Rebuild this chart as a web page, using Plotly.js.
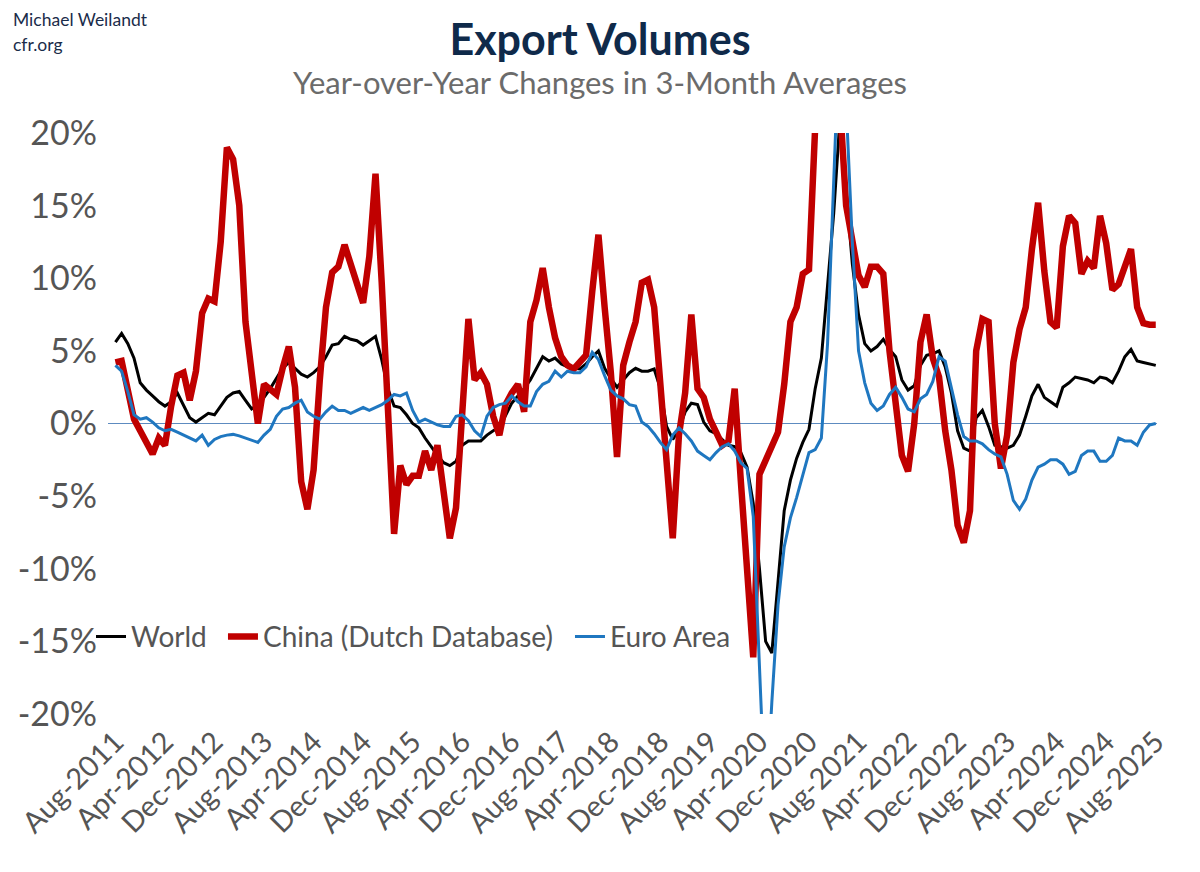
<!DOCTYPE html>
<html>
<head>
<meta charset="utf-8">
<script src="https://cdn.plot.ly/plotly-3.0.1.min.js"></script>
<style>
html,body{margin:0;padding:0;background:#fff;}
#chart{width:1200px;height:872px;}
</style>
</head>
<body>
<div id="chart"></div>
<script>
// Monthly observations, Aug-2011 .. Aug-2025 (169 months), % y/y of 3-month averages
const world = [
 5.6, 6.2, 5.5, 4.5, 2.8, 2.3, 1.9, 1.5, 1.2, 1.5,
 2.1, 1.2, 0.4, 0.1, 0.4, 0.7, 0.6, 1.2, 1.8, 2.1,
 2.2, 1.6, 1.0, 1.3, 1.8, 2.4, 3.1, 3.8, 4.2, 3.8,
 3.4, 3.2, 3.5, 3.9, 4.6, 5.4, 5.5, 6.0, 5.8, 5.7,
 5.4, 5.7, 6.0, 4.4, 2.4, 1.2, 1.1, 0.6, 0.0, -0.3,
 -1.0, -1.6, -2.2, -2.7, -2.9, -2.6, -1.5, -1.2, -1.2, -1.2,
 -0.8, -0.5, -0.3, 0.6, 1.4, 1.9, 2.4, 3.0, 3.8, 4.6,
 4.3, 4.5, 4.1, 3.9, 3.8, 3.75, 4.1, 4.6, 5.0, 3.8,
 3.1, 2.5, 3.0, 3.5, 3.8, 3.6, 3.6, 3.75, 2.4, -0.2,
 -1.1, -0.4, 0.8, 1.4, 1.3, 0.1, -0.5, -0.7, -1.1, -1.5,
 -1.6, -2.0, -3.0, -5.5, -10.0, -15.0, -15.8, -11.0, -6.0, -3.9,
 -2.4, -1.3, -0.4, 2.4, 4.5, 9.5, 14.5, 21.0, 16.0, 11.0,
 7.5, 5.5, 5.0, 5.3, 5.8, 5.1, 4.6, 3.0, 2.3, 2.6,
 4.0, 4.7, 4.8, 5.0, 3.9, 2.1, -0.5, -1.7, -1.9, 0.4,
 0.9, -0.2, -1.5, -1.6, -1.7, -1.5, -0.8, 0.5, 1.9, 2.7,
 1.8, 1.5, 1.2, 2.5, 2.8, 3.2, 3.1, 3.0, 2.8, 3.2,
 3.1, 2.8, 3.6, 4.6, 5.1, 4.3, 4.2, 4.1, 4.0
];
const china = [
 4.2, 4.3, 2.3, 0.3, -0.5, -1.3, -2.1, -1.0, -1.5, 1.2,
 3.3, 3.5, 1.6, 3.6, 7.6, 8.6, 8.4, 12.5, 19.0, 18.2,
 15.0, 7.0, 3.0, 0.0, 2.7, 2.4, 2.0, 3.8, 5.3, 2.5,
 -4.0, -5.9, -3.2, 3.0, 8.0, 10.4, 10.8, 12.3, 11.0, 9.6,
 8.3, 11.5, 17.2, 9.7, 2.0, -7.6, -2.9, -4.2, -3.6, -3.6,
 -1.9, -3.2, -1.5, -4.6, -7.9, -5.8, 1.5, 7.2, 3.0, 3.5,
 2.7, 0.5, -0.8, 1.3, 2.1, 2.7, 0.8, 7.0, 8.5, 10.7,
 8.0, 5.9, 4.6, 4.0, 3.75, 4.3, 4.7, 9.1, 13.0, 8.0,
 3.5, -2.3, 4.0, 5.6, 7.0, 9.7, 9.9, 8.0, 2.4, -2.4,
 -7.9, -0.8, 2.1, 7.5, 2.4, 1.8, 0.3, -0.6, -1.5, -1.2,
 2.4, -4.0, -10.0, -16.1, -3.5, -2.5, -1.5, -0.6, 2.7, 7.0,
 8.0, 10.3, 10.6, 30.0, 38.0, 40.0, 35.0, 22.0, 15.0, 12.5,
 10.2, 9.4, 10.8, 10.8, 10.3, 5.0, 1.0, -2.2, -3.3, 0.0,
 5.6, 7.5, 4.5, 3.2, -0.5, -3.2, -7.0, -8.2, -6.0, 5.0,
 7.2, 7.0, 0.0, -3.1, -0.8, 4.2, 6.5, 8.0, 12.0, 15.2,
 10.5, 7.0, 6.6, 12.2, 14.3, 13.8, 10.3, 11.2, 10.7, 14.3,
 12.4, 9.2, 9.6, 10.9, 12.0, 8.0, 6.9, 6.8, 6.8
];
const euro = [
 4.0, 3.6, 2.2, 0.6, 0.3, 0.4, 0.1, -0.3, -0.5, -0.4,
 -0.6, -0.8, -1.0, -1.2, -0.8, -1.5, -1.1, -0.9, -0.8, -0.75,
 -0.85, -1.0, -1.2, -1.3, -0.8, -0.4, 0.5, 1.0, 1.1, 1.4,
 1.6, 0.8, 0.5, 0.3, 0.8, 1.2, 0.9, 0.9, 0.7, 0.9,
 1.1, 0.9, 1.1, 1.3, 1.6, 2.0, 1.9, 2.1, 0.9, 0.1,
 0.3, 0.1, -0.1, -0.2, -0.2, 0.5, 0.6, 0.2, -0.5, -0.9,
 0.5, 1.1, 1.3, 1.4, 1.9, 1.5, 1.2, 1.2, 2.2, 2.7,
 2.9, 3.6, 3.2, 3.6, 3.5, 3.5, 3.9, 4.9, 4.4, 3.3,
 2.3, 1.9, 1.7, 1.3, 1.2, 0.1, -0.2, -0.7, -1.3, -1.8,
 -0.8, -0.3, -0.7, -1.2, -1.9, -2.2, -2.5, -2.0, -1.6, -1.4,
 -1.9, -2.7, -3.1, -6.4, -16.8, -27.0, -19.2, -12.5, -8.5, -6.5,
 -5.1, -3.5, -2.0, -1.8, -1.0, 5.5, 17.0, 28.0, 22.0, 12.5,
 5.0, 2.8, 1.4, 0.9, 1.2, 2.0, 2.5, 1.8, 1.0, 0.8,
 1.7, 2.0, 2.9, 4.6, 4.3, 2.5, 0.6, -0.9, -1.2, -1.2,
 -1.4, -1.8, -2.1, -2.3, -3.5, -5.3, -5.9, -5.2, -3.9, -3.0,
 -2.8, -2.5, -2.5, -2.8, -3.5, -3.3, -2.2, -1.9, -1.9, -2.6,
 -2.6, -2.2, -1.0, -1.2, -1.2, -1.5, -0.6, -0.1, 0.0
];
const xTickLabels = ["Aug-2011","Apr-2012","Dec-2012","Aug-2013","Apr-2014","Dec-2014","Aug-2015",
 "Apr-2016","Dec-2016","Aug-2017","Apr-2018","Dec-2018","Aug-2019","Apr-2020","Dec-2020",
 "Aug-2021","Apr-2022","Dec-2022","Aug-2023","Apr-2024","Dec-2024","Aug-2025"];
const yTickVals = [-20,-15,-10,-5,0,5,10,15,20];
const yTickLabels = ["-20%","-15%","-10%","-5%","0%","5%","10%","15%","20%"];

const idx = world.map((_, i) => i);
const xTickVals = xTickLabels.map((_, k) => k * 8);

const FONT = "Lato, 'Open Sans', sans-serif";
const traces = [
  {x: idx, y: world, type: 'scatter', mode: 'lines', name: 'World', legend: 'legend',
   line: {color: '#000000', width: 3}},
  {x: idx, y: china, type: 'scatter', mode: 'lines', name: 'China (Dutch Database)', legend: 'legend2',
   line: {color: '#c00000', width: 6.5}},
  {x: idx, y: euro, type: 'scatter', mode: 'lines', name: 'Euro Area', legend: 'legend3',
   line: {color: '#1f77c0', width: 3}}
];
function legendAt(xPaper) {
  return {orientation: 'h', x: xPaper, xanchor: 'left', y: 0.133, yanchor: 'middle',
          bgcolor: 'rgba(0,0,0,0)', font: {size: 28, color: '#555555', family: FONT},
          itemwidth: 30};
}
const layout = {
  width: 1200, height: 872,
  margin: {l: 108, r: 43, t: 133, b: 158},
  paper_bgcolor: '#ffffff', plot_bgcolor: '#ffffff',
  font: {family: FONT, color: '#595959'},
  showlegend: true,
  title: {text: '<b>Export Volumes</b>', x: 0.5, xanchor: 'center', y: 0.954, yanchor: 'middle',
          font: {family: FONT, size: 43, color: '#0f2a4a'}},
  xaxis: {range: [-1.2, 168.2], showgrid: false, zeroline: false, showline: false,
          tickmode: 'array', tickvals: xTickVals, ticktext: xTickLabels, tickangle: -45,
          ticks: '', ticklabelstandoff: 4, tickfont: {size: 29, color: '#555555'}, fixedrange: true},
  yaxis: {range: [-20, 20], showgrid: false, zeroline: true, zerolinecolor: '#5d8bc0', zerolinewidth: 1,
          showline: false, tickmode: 'array', tickvals: yTickVals, ticktext: yTickLabels,
          ticks: '', ticklabelstandoff: 10, tickfont: {size: 34, color: '#555555'}, fixedrange: true},
  legend: legendAt(-0.0162),
  legend2: legendAt(0.1096),
  legend3: legendAt(0.4404),
  annotations: [
    {text: 'Year-over-Year Changes in 3-Month Averages', xref: 'paper', yref: 'paper',
     x: 0.469, y: 1.088, xanchor: 'center', yanchor: 'middle', showarrow: false,
     font: {size: 31, color: '#6b6b6b', family: FONT}},
    {text: 'Michael Weilandt', xref: 'paper', yref: 'paper', x: -0.0925, y: 1.1945,
     xanchor: 'left', yanchor: 'middle', showarrow: false,
     font: {size: 17.5, color: '#1a2c4a', family: FONT}},
    {text: 'cfr.org', xref: 'paper', yref: 'paper', x: -0.0925, y: 1.153,
     xanchor: 'left', yanchor: 'middle', showarrow: false,
     font: {size: 17.5, color: '#1a2c4a', family: FONT}}
  ]
};
Plotly.newPlot('chart', traces, layout, {displayModeBar: false, staticPlot: true});
</script>
</body>
</html>
